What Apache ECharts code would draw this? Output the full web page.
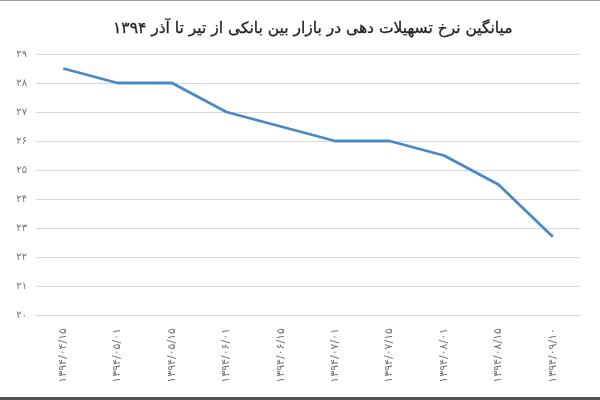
<!DOCTYPE html>
<html>
<head>
<meta charset="utf-8">
<script src="https://cdn.jsdelivr.net/npm/echarts@6/dist/echarts.min.js"></script>
<style>html,body{margin:0;padding:0;background:#fff}#c{width:600px;height:400px}</style>
</head>
<body>
<div id="c"></div>
<script>
var titleText = 'میانگین نرخ تسهیلات دهی در بازار بین بانکی از تیر تا آذر ۱۳۹۴';
var categories = ['۱۳۹۴/۰۴/۱۵','۱۳۹۴/۰۵/۰۱','۱۳۹۴/۰۵/۱۵','۱۳۹۴/۰۶/۰۱','۱۳۹۴/۰۶/۱۵','۱۳۹۴/۰۷/۰۱','۱۳۹۴/۰۷/۱۵','۱۳۹۴/۰۸/۰۱','۱۳۹۴/۰۸/۱۵','۱۳۹۴/۰۹/۱۰'];
var rates = [28.5, 28, 28, 27, 26.5, 26, 26, 25.5, 24.5, 22.7];
var yTickLabels = {20:'۲۰',21:'۲۱',22:'۲۲',23:'۲۳',24:'۲۴',25:'۲۵',26:'۲۶',27:'۲۷',28:'۲۸',29:'۲۹'};

var chart = echarts.init(document.getElementById('c'));
chart.setOption({
  backgroundColor: '#fff',
  animation: false,
  title: {
    text: titleText, left: 108, top: 16,
    textStyle: {fontFamily: 'DejaVu Sans', fontSize: 15.5, fontWeight: 'normal', color: '#222',
      textBorderColor: '#222', textBorderWidth: 0.3}
  },
  grid: {left: 36, right: 20, top: 54, bottom: 85},
  xAxis: {
    type: 'category', data: categories, boundaryGap: true,
    axisLine: {show: true, lineStyle: {color: '#d9d9d9'}},
    axisTick: {show: false},
    axisLabel: {rotate: 90, interval: 0, margin: 13, color: '#777', fontSize: 11, fontFamily: 'DejaVu Sans'}
  },
  yAxis: {
    type: 'value', min: 20, max: 29, interval: 1,
    axisLine: {show: false}, axisTick: {show: false},
    splitLine: {lineStyle: {color: '#d9d9d9'}},
    axisLabel: {margin: 9, color: '#777', fontSize: 10, fontFamily: 'DejaVu Sans',
      formatter: function (v) { return yTickLabels[v] || ''; }}
  },
  series: [{
    type: 'line', data: rates, showSymbol: false, symbol: 'none',
    lineStyle: {color: '#4a89c8', width: 2.8}
  }],
  graphic: [
    {type: 'rect', left: 0, top: 0, shape: {width: 600, height: 1}, style: {fill: '#999'}},
    {type: 'rect', left: 0, top: 397, shape: {width: 600, height: 3}, style: {fill: '#555'}}
  ]
});
</script>
</body>
</html>
